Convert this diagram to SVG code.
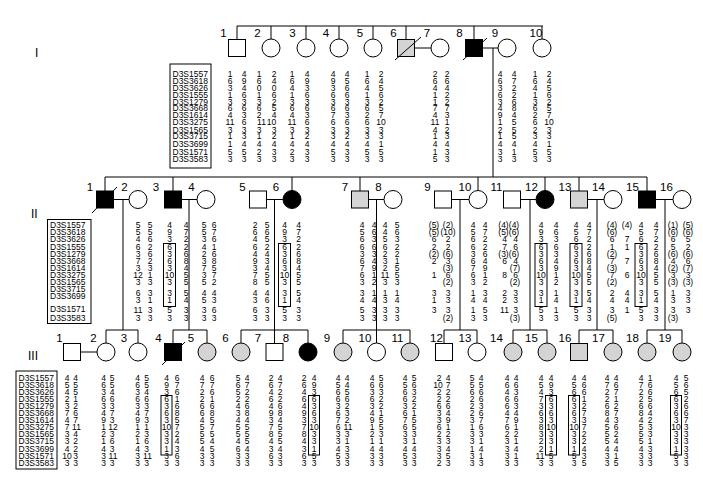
<svg xmlns="http://www.w3.org/2000/svg" width="703" height="490" viewBox="0 0 703 490">
<style>
.ln{stroke:#000;stroke-width:1;fill:none}
.w{fill:#fff;stroke:#000;stroke-width:1}
.k{fill:#000;stroke:#000;stroke-width:1}
.g{fill:#d4d4d4;stroke:#000;stroke-width:1}
.bx{fill:none;stroke:#000;stroke-width:1}
.lb{font-family:"Liberation Sans",Arial,sans-serif;font-size:11.5px;text-anchor:middle;fill:#000}
.gn{font-family:"Liberation Sans",Arial,sans-serif;font-size:12px;fill:#000}
.mk{font-family:"Liberation Sans",Arial,sans-serif;font-size:8.5px;fill:#000}
.a{font-family:"Liberation Sans",Arial,sans-serif;font-size:8.5px;text-anchor:middle;fill:#000}
</style>
<rect width="703" height="490" fill="#fff"/>
<g id="generation-labels">
<text class="gn" x="35" y="57">I</text>
<text class="gn" x="31" y="218">II</text>
<text class="gn" x="28" y="360">III</text>
</g>
<g id="connectors" class="ln">
<path d="M237 26H543M237 26V39.5M271 26V39M306 26V39M339 26V39M373 26V39M406 26V39.5M474 26V39.5M542 26V39M415 48H431M483 48H498M493 48V177"/>
<path d="M105 177H647M105 177V191M173 177V191M292 177V190.5M360 177V191M478 177V190.5M545 177V190.5M579 177V191M647 177V191"/>
<path d="M113.5 199.5H129M181.5 199.5H197M266.5 199.5H283M368.5 199.5H384M451.5 199.5H469M520.5 199.5H536M587.5 199.5H604M655.5 199.5H673"/>
<path d="M123 199.5V330M189 199.5V330M274.5 199.5V343.5M376.5 199.5V343M460 199.5V330M530 199.5V330M597 199.5V330M665 199.5V330"/>
<path d="M106 330H138M106 330V343M138 330V343M80.5 352H97M173 330H207M173 330V343.5M207 330V343M241 330H308M241 330V343M308 330V343M343 330H410M343 330V343M410 330V343M444 330H477M444 330V343.5M477 330V343M513 330H547M513 330V343M547 330V343M579 330H613M579 330V343.5M613 330V343M647 330H682M647 330V343M682 330V343"/>
</g>
<g id="markers-I">
<rect class="bx" x="170" y="64" width="41" height="104"/>
<text class="mk"><tspan x="172.5" y="76.5">D3S1557</tspan><tspan x="172.5" y="84">D3S3618</tspan><tspan x="172.5" y="91">D3S3626</tspan><tspan x="172.5" y="98">D3S1555</tspan><tspan x="172.5" y="104.5">D3S1279</tspan><tspan x="172.5" y="111">D3S3668</tspan><tspan x="172.5" y="117.5">D3S1614</tspan><tspan x="172.5" y="125">D3S3275</tspan><tspan x="172.5" y="132.5">D3S1565</tspan><tspan x="172.5" y="139">D3S3715</tspan><tspan x="172.5" y="147">D3S3699</tspan><tspan x="172.5" y="154.5">D3S1571</tspan><tspan x="172.5" y="162">D3S3583</tspan></text>
</g>
<g id="markers-II">
<rect class="bx" x="47.5" y="219.5" width="43.5" height="104"/>
<text class="mk"><tspan x="50" y="227.5">D3S1557</tspan><tspan x="50" y="234.5">D3S3618</tspan><tspan x="50" y="242">D3S3626</tspan><tspan x="50" y="249.5">D3S1555</tspan><tspan x="50" y="256.5">D3S1279</tspan><tspan x="50" y="263.5">D3S3668</tspan><tspan x="50" y="270.5">D3S1614</tspan><tspan x="50" y="277.5">D3S3275</tspan><tspan x="50" y="284.5">D3S1565</tspan><tspan x="50" y="292">D3S3715</tspan><tspan x="50" y="299">D3S3699</tspan><tspan x="50" y="312">D3S1571</tspan><tspan x="50" y="321">D3S3583</tspan></text>
</g>
<g id="markers-III">
<rect class="bx" x="16" y="371" width="41" height="98"/>
<text class="mk"><tspan x="18.5" y="380.5">D3S1557</tspan><tspan x="18.5" y="387.6">D3S3618</tspan><tspan x="18.5" y="394.7">D3S3626</tspan><tspan x="18.5" y="401.8">D3S1555</tspan><tspan x="18.5" y="408.9">D3S1279</tspan><tspan x="18.5" y="416">D3S3668</tspan><tspan x="18.5" y="423.1">D3S1614</tspan><tspan x="18.5" y="430.2">D3S3275</tspan><tspan x="18.5" y="437.3">D3S1565</tspan><tspan x="18.5" y="444.4">D3S3715</tspan><tspan x="18.5" y="451.5">D3S3699</tspan><tspan x="18.5" y="458.6">D3S1571</tspan><tspan x="18.5" y="465.7">D3S3583</tspan></text>
</g>

<g id="I-1"><rect class="w" x="228.5" y="39.5" width="17" height="17"/><text class="lb" x="223.5" y="37">1</text>
<text class="a"><tspan x="230" y="76.5">1</tspan><tspan x="230" y="84">6</tspan><tspan x="230" y="91">3</tspan><tspan x="230" y="98">1</tspan><tspan x="230" y="104.5">3</tspan><tspan x="230" y="111">6</tspan><tspan x="230" y="117.5">4</tspan><tspan x="230" y="125">11</tspan><tspan x="230" y="132.5">3</tspan><tspan x="230" y="139">1</tspan><tspan x="230" y="147">1</tspan><tspan x="230" y="154.5">5</tspan><tspan x="230" y="162">3</tspan></text>
<text class="a"><tspan x="244" y="76.5">4</tspan><tspan x="244" y="84">9</tspan><tspan x="244" y="91">4</tspan><tspan x="244" y="98">6</tspan><tspan x="244" y="104.5">3</tspan><tspan x="244" y="111">6</tspan><tspan x="244" y="117.5">3</tspan><tspan x="244" y="125">6</tspan><tspan x="244" y="132.5">3</tspan><tspan x="244" y="139">3</tspan><tspan x="244" y="147">4</tspan><tspan x="244" y="154.5">5</tspan><tspan x="244" y="162">3</tspan></text></g>
<g id="I-2"><circle class="w" cx="271" cy="48" r="9"/><text class="lb" x="257.5" y="37">2</text>
<text class="a"><tspan x="259" y="76.5">1</tspan><tspan x="259" y="84">6</tspan><tspan x="259" y="91">0</tspan><tspan x="259" y="98">1</tspan><tspan x="259" y="104.5">3</tspan><tspan x="259" y="111">6</tspan><tspan x="259" y="117.5">2</tspan><tspan x="261.5" y="125">11</tspan><tspan x="259" y="132.5">3</tspan><tspan x="259" y="139">1</tspan><tspan x="259" y="147">4</tspan><tspan x="259" y="154.5">2</tspan><tspan x="259" y="162">3</tspan></text>
<text class="a"><tspan x="274" y="76.5">2</tspan><tspan x="274" y="84">4</tspan><tspan x="274" y="91">0</tspan><tspan x="274" y="98">6</tspan><tspan x="274" y="104.5">2</tspan><tspan x="274" y="111">5</tspan><tspan x="274" y="117.5">4</tspan><tspan x="271.5" y="125">10</tspan><tspan x="274" y="132.5">3</tspan><tspan x="274" y="139">2</tspan><tspan x="274" y="147">4</tspan><tspan x="274" y="154.5">3</tspan><tspan x="274" y="162">3</tspan></text></g>
<g id="I-3"><circle class="w" cx="306" cy="48" r="9"/><text class="lb" x="292.5" y="37">3</text>
<text class="a"><tspan x="292" y="76.5">1</tspan><tspan x="292" y="84">6</tspan><tspan x="292" y="91">4</tspan><tspan x="292" y="98">1</tspan><tspan x="292" y="104.5">3</tspan><tspan x="292" y="111">6</tspan><tspan x="292" y="117.5">4</tspan><tspan x="292" y="125">11</tspan><tspan x="292" y="132.5">3</tspan><tspan x="292" y="139">1</tspan><tspan x="292" y="147">4</tspan><tspan x="292" y="154.5">2</tspan><tspan x="292" y="162">3</tspan></text>
<text class="a"><tspan x="307" y="76.5">4</tspan><tspan x="307" y="84">9</tspan><tspan x="307" y="91">3</tspan><tspan x="307" y="98">6</tspan><tspan x="307" y="104.5">3</tspan><tspan x="307" y="111">6</tspan><tspan x="307" y="117.5">3</tspan><tspan x="307" y="125">6</tspan><tspan x="307" y="132.5">3</tspan><tspan x="307" y="139">2</tspan><tspan x="307" y="147">4</tspan><tspan x="307" y="154.5">3</tspan><tspan x="307" y="162">3</tspan></text></g>
<g id="I-4"><circle class="w" cx="339" cy="48" r="9"/><text class="lb" x="326" y="37">4</text>
<text class="a"><tspan x="333" y="76.5">4</tspan><tspan x="333" y="84">9</tspan><tspan x="333" y="91">3</tspan><tspan x="333" y="98">6</tspan><tspan x="333" y="104.5">3</tspan><tspan x="333" y="111">6</tspan><tspan x="333" y="117.5">7</tspan><tspan x="333" y="125">6</tspan><tspan x="333" y="132.5">3</tspan><tspan x="333" y="139">3</tspan><tspan x="333" y="147">4</tspan><tspan x="333" y="154.5">5</tspan><tspan x="333" y="162">3</tspan></text>
<text class="a"><tspan x="347" y="76.5">4</tspan><tspan x="347" y="84">5</tspan><tspan x="347" y="91">6</tspan><tspan x="347" y="98">6</tspan><tspan x="347" y="104.5">3</tspan><tspan x="347" y="111">6</tspan><tspan x="347" y="117.5">3</tspan><tspan x="347" y="125">6</tspan><tspan x="347" y="132.5">3</tspan><tspan x="347" y="139">2</tspan><tspan x="347" y="147">4</tspan><tspan x="347" y="154.5">3</tspan><tspan x="347" y="162">3</tspan></text></g>
<g id="I-5"><circle class="w" cx="373" cy="48" r="9"/><text class="lb" x="360" y="37">5</text>
<text class="a"><tspan x="367" y="76.5">1</tspan><tspan x="367" y="84">6</tspan><tspan x="367" y="91">4</tspan><tspan x="367" y="98">1</tspan><tspan x="367" y="104.5">3</tspan><tspan x="367" y="111">6</tspan><tspan x="367" y="117.5">2</tspan><tspan x="367" y="125">6</tspan><tspan x="367" y="132.5">3</tspan><tspan x="367" y="139">3</tspan><tspan x="367" y="147">4</tspan><tspan x="367" y="154.5">5</tspan><tspan x="367" y="162">3</tspan></text>
<text class="a"><tspan x="381" y="76.5">2</tspan><tspan x="381" y="84">4</tspan><tspan x="381" y="91">5</tspan><tspan x="381" y="98">6</tspan><tspan x="381" y="104.5">2</tspan><tspan x="381" y="111">5</tspan><tspan x="381" y="117.5">7</tspan><tspan x="381" y="125">10</tspan><tspan x="381" y="132.5">3</tspan><tspan x="381" y="139">3</tspan><tspan x="381" y="147">1</tspan><tspan x="381" y="154.5">5</tspan><tspan x="381" y="162">3</tspan></text></g>
<g id="I-6"><rect class="g" x="397.5" y="39.5" width="17" height="17"/><path class="ln" d="M395 60L421 37"/><text class="lb" x="393.5" y="37">6</text></g>
<g id="I-7"><circle class="w" cx="440" cy="48" r="9"/><text class="lb" x="427" y="37">7</text>
<text class="a"><tspan x="435" y="76.5">2</tspan><tspan x="435" y="84">6</tspan><tspan x="435" y="91">4</tspan><tspan x="435" y="98">1</tspan><tspan x="435" y="104.5">1</tspan><tspan x="435" y="111">7</tspan><tspan x="435" y="117.5">4</tspan><tspan x="435" y="125">11</tspan><tspan x="435" y="132.5">4</tspan><tspan x="435" y="139">1</tspan><tspan x="435" y="147">4</tspan><tspan x="435" y="154.5">1</tspan><tspan x="435" y="162">5</tspan></text>
<text class="a"><tspan x="447" y="76.5">2</tspan><tspan x="447" y="84">6</tspan><tspan x="447" y="91">4</tspan><tspan x="447" y="98">2</tspan><tspan x="447" y="104.5">2</tspan><tspan x="447" y="111">7</tspan><tspan x="447" y="117.5">3</tspan><tspan x="447" y="125">1</tspan><tspan x="447" y="132.5">2</tspan><tspan x="447" y="139">3</tspan><tspan x="447" y="147">4</tspan><tspan x="447" y="154.5">3</tspan><tspan x="447" y="162">3</tspan></text></g>
<g id="I-8"><rect class="k" x="465.5" y="39.5" width="17" height="17"/><path class="ln" d="M463 60L487 38"/><text class="lb" x="459.5" y="37">8</text></g>
<g id="I-9"><circle class="w" cx="507" cy="48" r="9"/><text class="lb" x="495" y="37">9</text>
<text class="a"><tspan x="500" y="76.5">4</tspan><tspan x="500" y="84">6</tspan><tspan x="500" y="91">3</tspan><tspan x="500" y="98">6</tspan><tspan x="500" y="104.5">3</tspan><tspan x="500" y="111">4</tspan><tspan x="500" y="117.5">9</tspan><tspan x="500" y="125">1</tspan><tspan x="500" y="132.5">2</tspan><tspan x="500" y="139">1</tspan><tspan x="500" y="147">4</tspan><tspan x="500" y="154.5">3</tspan><tspan x="500" y="162">3</tspan></text>
<text class="a"><tspan x="514" y="76.5">4</tspan><tspan x="514" y="84">7</tspan><tspan x="514" y="91">2</tspan><tspan x="514" y="98">2</tspan><tspan x="514" y="104.5">6</tspan><tspan x="514" y="111">8</tspan><tspan x="514" y="117.5">4</tspan><tspan x="514" y="125">5</tspan><tspan x="514" y="132.5">5</tspan><tspan x="514" y="139">5</tspan><tspan x="514" y="147">4</tspan><tspan x="514" y="154.5">1</tspan><tspan x="514" y="162">3</tspan></text></g>
<g id="I-10"><circle class="w" cx="542" cy="48" r="9"/><text class="lb" x="536" y="37">10</text>
<text class="a"><tspan x="535" y="76.5">1</tspan><tspan x="535" y="84">6</tspan><tspan x="535" y="91">4</tspan><tspan x="535" y="98">1</tspan><tspan x="535" y="104.5">3</tspan><tspan x="535" y="111">6</tspan><tspan x="535" y="117.5">2</tspan><tspan x="535" y="125">6</tspan><tspan x="535" y="132.5">2</tspan><tspan x="535" y="139">3</tspan><tspan x="535" y="147">4</tspan><tspan x="535" y="154.5">5</tspan><tspan x="535" y="162">3</tspan></text>
<text class="a"><tspan x="549" y="76.5">2</tspan><tspan x="549" y="84">4</tspan><tspan x="549" y="91">5</tspan><tspan x="549" y="98">6</tspan><tspan x="549" y="104.5">2</tspan><tspan x="549" y="111">5</tspan><tspan x="549" y="117.5">7</tspan><tspan x="549" y="125">10</tspan><tspan x="549" y="132.5">3</tspan><tspan x="549" y="139">3</tspan><tspan x="549" y="147">1</tspan><tspan x="549" y="154.5">5</tspan><tspan x="549" y="162">3</tspan></text></g>

<g id="II-1"><rect class="k" x="96.5" y="191" width="17" height="17"/><path class="ln" d="M92 213L117 187"/><text class="lb" x="90" y="190.5">1</text></g>
<g id="II-2"><circle class="w" cx="138" cy="199.5" r="9"/><text class="lb" x="124.5" y="190.5">2</text>
<text class="a"><tspan x="138" y="228">5</tspan><tspan x="138" y="235">5</tspan><tspan x="138" y="242">4</tspan><tspan x="138" y="249.5">6</tspan><tspan x="138" y="256.5">3</tspan><tspan x="138" y="263.5">7</tspan><tspan x="138" y="270.5">3</tspan><tspan x="138" y="277.5">12</tspan><tspan x="138" y="284.5">3</tspan><tspan x="138" y="295.5">6</tspan><tspan x="138" y="302.5">3</tspan><tspan x="138" y="312.5">11</tspan><tspan x="138" y="321">3</tspan></text>
<text class="a"><tspan x="150" y="228">5</tspan><tspan x="150" y="235">5</tspan><tspan x="150" y="242">6</tspan><tspan x="150" y="249.5">2</tspan><tspan x="150" y="256.5">6</tspan><tspan x="150" y="263.5">2</tspan><tspan x="150" y="270.5">3</tspan><tspan x="150" y="277.5">1</tspan><tspan x="150" y="284.5">3</tspan><tspan x="150" y="295.5">3</tspan><tspan x="150" y="302.5">1</tspan><tspan x="150" y="312.5">3</tspan><tspan x="150" y="321">3</tspan></text></g>
<g id="II-3"><rect class="k" x="164.5" y="191" width="17" height="17"/><text class="lb" x="156" y="190.5">3</text>
<rect class="bx" x="163.5" y="243.5" width="12" height="63"/>
<text class="a"><tspan x="169.5" y="228">4</tspan><tspan x="169.5" y="235">9</tspan><tspan x="169.5" y="242">3</tspan><tspan x="169.5" y="249.5">6</tspan><tspan x="169.5" y="256.5">3</tspan><tspan x="169.5" y="263.5">6</tspan><tspan x="169.5" y="270.5">3</tspan><tspan x="169.5" y="277.5">10</tspan><tspan x="169.5" y="284.5">3</tspan><tspan x="169.5" y="295.5">3</tspan><tspan x="169.5" y="302.5">1</tspan><tspan x="169.5" y="312.5">5</tspan><tspan x="169.5" y="321">3</tspan></text>
<text class="a"><tspan x="186" y="228">4</tspan><tspan x="186" y="235">7</tspan><tspan x="186" y="242">2</tspan><tspan x="186" y="249.5">2</tspan><tspan x="186" y="256.5">6</tspan><tspan x="186" y="263.5">8</tspan><tspan x="186" y="270.5">4</tspan><tspan x="186" y="277.5">5</tspan><tspan x="186" y="284.5">5</tspan><tspan x="186" y="295.5">5</tspan><tspan x="186" y="302.5">4</tspan><tspan x="186" y="312.5">3</tspan><tspan x="186" y="321">3</tspan></text></g>
<g id="II-4"><circle class="w" cx="206" cy="199.5" r="9"/><text class="lb" x="191.5" y="190.5">4</text>
<text class="a"><tspan x="204" y="228">5</tspan><tspan x="204" y="235">5</tspan><tspan x="204" y="242">3</tspan><tspan x="204" y="249.5">4</tspan><tspan x="204" y="256.5">2</tspan><tspan x="204" y="263.5">3</tspan><tspan x="204" y="270.5">7</tspan><tspan x="204" y="277.5">3</tspan><tspan x="204" y="284.5">5</tspan><tspan x="204" y="295.5">4</tspan><tspan x="204" y="302.5">5</tspan><tspan x="204" y="312.5">3</tspan><tspan x="204" y="321">3</tspan></text>
<text class="a"><tspan x="214" y="228">6</tspan><tspan x="214" y="235">7</tspan><tspan x="214" y="242">6</tspan><tspan x="214" y="249.5">1</tspan><tspan x="214" y="256.5">6</tspan><tspan x="214" y="263.5">8</tspan><tspan x="214" y="270.5">5</tspan><tspan x="214" y="277.5">7</tspan><tspan x="214" y="284.5">2</tspan><tspan x="214" y="295.5">4</tspan><tspan x="214" y="302.5">3</tspan><tspan x="214" y="312.5">6</tspan><tspan x="214" y="321">3</tspan></text></g>
<g id="II-5"><rect class="w" x="249.5" y="191" width="17" height="17"/><text class="lb" x="242.5" y="190.5">5</text>
<text class="a"><tspan x="255" y="228">2</tspan><tspan x="255" y="235">6</tspan><tspan x="255" y="242">4</tspan><tspan x="255" y="249.5">6</tspan><tspan x="255" y="256.5">4</tspan><tspan x="255" y="263.5">9</tspan><tspan x="255" y="270.5">3</tspan><tspan x="255" y="277.5">7</tspan><tspan x="255" y="284.5">8</tspan><tspan x="255" y="295.5">4</tspan><tspan x="255" y="302.5">3</tspan><tspan x="255" y="312.5">6</tspan><tspan x="255" y="321">3</tspan></text>
<text class="a"><tspan x="267" y="228">5</tspan><tspan x="267" y="235">6</tspan><tspan x="267" y="242">5</tspan><tspan x="267" y="249.5">2</tspan><tspan x="267" y="256.5">4</tspan><tspan x="267" y="263.5">3</tspan><tspan x="267" y="270.5">4</tspan><tspan x="267" y="277.5">5</tspan><tspan x="267" y="284.5">5</tspan><tspan x="267" y="295.5">4</tspan><tspan x="267" y="302.5">6</tspan><tspan x="267" y="312.5">3</tspan><tspan x="267" y="321">3</tspan></text></g>
<g id="II-6"><circle class="k" cx="292" cy="199.5" r="9"/><text class="lb" x="276" y="190.5">6</text>
<rect class="bx" x="278.5" y="243.5" width="12" height="63"/>
<text class="a"><tspan x="284.5" y="228">4</tspan><tspan x="284.5" y="235">9</tspan><tspan x="284.5" y="242">3</tspan><tspan x="284.5" y="249.5">6</tspan><tspan x="284.5" y="256.5">3</tspan><tspan x="284.5" y="263.5">6</tspan><tspan x="284.5" y="270.5">3</tspan><tspan x="284.5" y="277.5">10</tspan><tspan x="284.5" y="284.5">3</tspan><tspan x="284.5" y="295.5">3</tspan><tspan x="284.5" y="302.5">1</tspan><tspan x="284.5" y="312.5">5</tspan><tspan x="284.5" y="321">3</tspan></text>
<text class="a"><tspan x="298.5" y="228">4</tspan><tspan x="298.5" y="235">7</tspan><tspan x="298.5" y="242">2</tspan><tspan x="298.5" y="249.5">2</tspan><tspan x="298.5" y="256.5">6</tspan><tspan x="298.5" y="263.5">8</tspan><tspan x="298.5" y="270.5">4</tspan><tspan x="298.5" y="277.5">5</tspan><tspan x="298.5" y="284.5">5</tspan><tspan x="298.5" y="295.5">5</tspan><tspan x="298.5" y="302.5">4</tspan><tspan x="298.5" y="312.5">3</tspan><tspan x="298.5" y="321">3</tspan></text></g>
<g id="II-7"><rect class="g" x="351.5" y="191" width="17" height="17"/><text class="lb" x="345" y="190.5">7</text>
<text class="a"><tspan x="362" y="228">4</tspan><tspan x="362" y="235">5</tspan><tspan x="362" y="242">6</tspan><tspan x="362" y="249.5">6</tspan><tspan x="362" y="256.5">3</tspan><tspan x="362" y="263.5">6</tspan><tspan x="362" y="270.5">7</tspan><tspan x="362" y="277.5">6</tspan><tspan x="362" y="284.5">3</tspan><tspan x="362" y="295.5">3</tspan><tspan x="362" y="302.5">4</tspan><tspan x="362" y="312.5">5</tspan><tspan x="362" y="321">3</tspan></text>
<text class="a"><tspan x="374" y="228">4</tspan><tspan x="374" y="235">6</tspan><tspan x="374" y="242">3</tspan><tspan x="374" y="249.5">6</tspan><tspan x="374" y="256.5">3</tspan><tspan x="374" y="263.5">4</tspan><tspan x="374" y="270.5">9</tspan><tspan x="374" y="277.5">1</tspan><tspan x="374" y="284.5">2</tspan><tspan x="374" y="295.5">1</tspan><tspan x="374" y="302.5">4</tspan><tspan x="374" y="312.5">3</tspan><tspan x="374" y="321">3</tspan></text></g>
<g id="II-8"><circle class="w" cx="393" cy="199.5" r="9"/><text class="lb" x="378.5" y="190.5">8</text>
<text class="a"><tspan x="385" y="228">4</tspan><tspan x="385" y="235">4</tspan><tspan x="385" y="242">5</tspan><tspan x="385" y="249.5">6</tspan><tspan x="385" y="256.5">2</tspan><tspan x="385" y="263.5">3</tspan><tspan x="385" y="270.5">2</tspan><tspan x="385" y="277.5">11</tspan><tspan x="385" y="284.5">3</tspan><tspan x="385" y="295.5">1</tspan><tspan x="385" y="302.5">3</tspan><tspan x="385" y="312.5">3</tspan><tspan x="385" y="321">3</tspan></text>
<text class="a"><tspan x="397" y="228">5</tspan><tspan x="397" y="235">6</tspan><tspan x="397" y="242">3</tspan><tspan x="397" y="249.5">2</tspan><tspan x="397" y="256.5">2</tspan><tspan x="397" y="263.5">1</tspan><tspan x="397" y="270.5">5</tspan><tspan x="397" y="277.5">5</tspan><tspan x="397" y="284.5">3</tspan><tspan x="397" y="295.5">1</tspan><tspan x="397" y="302.5">4</tspan><tspan x="397" y="312.5">3</tspan><tspan x="397" y="321">3</tspan></text></g>
<g id="II-9"><rect class="w" x="434.5" y="191" width="17" height="17"/><text class="lb" x="427.5" y="190.5">9</text>
<text class="a"><tspan x="434" y="228">(5)</tspan><tspan x="434" y="235">(5)</tspan><tspan x="434" y="242">6</tspan><tspan x="434" y="249.5">2</tspan><tspan x="434" y="256.5">(2)</tspan><tspan x="434" y="263.5">2</tspan><tspan x="434" y="277.5">1</tspan><tspan x="434" y="295.5">3</tspan><tspan x="434" y="302.5">1</tspan><tspan x="434" y="312.5">3</tspan></text>
<text class="a"><tspan x="448" y="228">(2)</tspan><tspan x="448" y="235">(10)</tspan><tspan x="448" y="242">2</tspan><tspan x="448" y="249.5">2</tspan><tspan x="448" y="256.5">(6)</tspan><tspan x="448" y="263.5">3</tspan><tspan x="448" y="270.5">(3)</tspan><tspan x="448" y="277.5">6</tspan><tspan x="448" y="284.5">(2)</tspan><tspan x="448" y="295.5">3</tspan><tspan x="448" y="302.5">3</tspan><tspan x="448" y="312.5">3</tspan><tspan x="448" y="321">(2)</tspan></text></g>
<g id="II-10"><circle class="w" cx="478" cy="199.5" r="9"/><text class="lb" x="465" y="190.5">10</text>
<text class="a"><tspan x="473" y="228">4</tspan><tspan x="473" y="235">5</tspan><tspan x="473" y="242">6</tspan><tspan x="473" y="249.5">6</tspan><tspan x="473" y="256.5">3</tspan><tspan x="473" y="263.5">6</tspan><tspan x="473" y="270.5">7</tspan><tspan x="473" y="277.5">6</tspan><tspan x="473" y="284.5">3</tspan><tspan x="473" y="295.5">1</tspan><tspan x="473" y="302.5">4</tspan><tspan x="473" y="312.5">1</tspan><tspan x="473" y="321">3</tspan></text>
<text class="a"><tspan x="485" y="228">4</tspan><tspan x="485" y="235">7</tspan><tspan x="485" y="242">2</tspan><tspan x="485" y="249.5">2</tspan><tspan x="485" y="256.5">6</tspan><tspan x="485" y="263.5">4</tspan><tspan x="485" y="270.5">9</tspan><tspan x="485" y="277.5">1</tspan><tspan x="485" y="284.5">2</tspan><tspan x="485" y="295.5">3</tspan><tspan x="485" y="302.5">4</tspan><tspan x="485" y="312.5">5</tspan><tspan x="485" y="321">3</tspan></text></g>
<g id="II-11"><rect class="w" x="503.5" y="191" width="17" height="17"/><text class="lb" x="496.5" y="190.5">11</text>
<text class="a"><tspan x="503.5" y="228">(4)</tspan><tspan x="503.5" y="235">(5)</tspan><tspan x="504.5" y="242">4</tspan><tspan x="504.5" y="249.5">7</tspan><tspan x="503.5" y="256.5">(3)</tspan><tspan x="504.5" y="263.5">6</tspan><tspan x="504.5" y="277.5">8</tspan><tspan x="504.5" y="295.5">2</tspan><tspan x="504.5" y="302.5">2</tspan><tspan x="504.5" y="312.5">11</tspan></text>
<text class="a"><tspan x="514" y="228">(4)</tspan><tspan x="514" y="235">(6)</tspan><tspan x="515.5" y="242">4</tspan><tspan x="515.5" y="249.5">6</tspan><tspan x="514" y="256.5">(6)</tspan><tspan x="515.5" y="263.5">4</tspan><tspan x="515" y="270.5">(7)</tspan><tspan x="515.5" y="277.5">6</tspan><tspan x="515" y="284.5">(2)</tspan><tspan x="515.5" y="295.5">3</tspan><tspan x="515.5" y="302.5">3</tspan><tspan x="515.5" y="312.5">3</tspan><tspan x="515" y="321">(3)</tspan></text></g>
<g id="II-12"><circle class="k" cx="545" cy="199.5" r="9"/><text class="lb" x="531.5" y="190.5">12</text>
<rect class="bx" x="535" y="243.5" width="12" height="63"/>
<text class="a"><tspan x="541" y="228">4</tspan><tspan x="541" y="235">9</tspan><tspan x="541" y="242">3</tspan><tspan x="541" y="249.5">6</tspan><tspan x="541" y="256.5">3</tspan><tspan x="541" y="263.5">6</tspan><tspan x="541" y="270.5">3</tspan><tspan x="541" y="277.5">10</tspan><tspan x="541" y="284.5">3</tspan><tspan x="541" y="295.5">3</tspan><tspan x="541" y="302.5">1</tspan><tspan x="541" y="312.5">5</tspan><tspan x="541" y="321">3</tspan></text>
<text class="a"><tspan x="556" y="228">4</tspan><tspan x="556" y="235">6</tspan><tspan x="556" y="242">3</tspan><tspan x="556" y="249.5">6</tspan><tspan x="556" y="256.5">3</tspan><tspan x="556" y="263.5">4</tspan><tspan x="556" y="270.5">9</tspan><tspan x="556" y="277.5">1</tspan><tspan x="556" y="284.5">2</tspan><tspan x="556" y="295.5">1</tspan><tspan x="556" y="302.5">4</tspan><tspan x="556" y="312.5">1</tspan><tspan x="556" y="321">3</tspan></text></g>
<g id="II-13"><rect class="g" x="570.5" y="191" width="17" height="17"/><text class="lb" x="565" y="190.5">13</text>
<rect class="bx" x="570" y="243.5" width="12" height="63"/>
<text class="a"><tspan x="576" y="228">4</tspan><tspan x="576" y="235">5</tspan><tspan x="576" y="242">6</tspan><tspan x="576" y="249.5">6</tspan><tspan x="576" y="256.5">3</tspan><tspan x="576" y="263.5">6</tspan><tspan x="576" y="270.5">3</tspan><tspan x="576" y="277.5">10</tspan><tspan x="576" y="284.5">3</tspan><tspan x="576" y="295.5">3</tspan><tspan x="576" y="302.5">1</tspan><tspan x="576" y="312.5">5</tspan><tspan x="576" y="321">3</tspan></text>
<text class="a"><tspan x="589" y="228">4</tspan><tspan x="589" y="235">7</tspan><tspan x="589" y="242">2</tspan><tspan x="589" y="249.5">2</tspan><tspan x="589" y="256.5">6</tspan><tspan x="589" y="263.5">8</tspan><tspan x="589" y="270.5">4</tspan><tspan x="589" y="277.5">5</tspan><tspan x="589" y="284.5">5</tspan><tspan x="589" y="295.5">5</tspan><tspan x="589" y="302.5">4</tspan><tspan x="589" y="312.5">3</tspan><tspan x="589" y="321">3</tspan></text></g>
<g id="II-14"><circle class="w" cx="613" cy="199.5" r="9"/><text class="lb" x="598.5" y="190.5">14</text>
<text class="a"><tspan x="612" y="228">(4)</tspan><tspan x="612" y="235">(6)</tspan><tspan x="612" y="242">6</tspan><tspan x="612" y="249.5">1</tspan><tspan x="612" y="256.5">(2)</tspan><tspan x="612" y="263.5">7</tspan><tspan x="612" y="270.5">(3)</tspan><tspan x="612" y="277.5">7</tspan><tspan x="612" y="284.5">(2)</tspan><tspan x="612" y="295.5">2</tspan><tspan x="612" y="302.5">4</tspan><tspan x="612" y="312.5">3</tspan><tspan x="612" y="321">(5)</tspan></text>
<text class="a"><tspan x="627" y="228">(4)</tspan><tspan x="627" y="242">7</tspan><tspan x="627" y="249.5">1</tspan><tspan x="627" y="263.5">7</tspan><tspan x="627" y="277.5">6</tspan><tspan x="627" y="295.5">4</tspan><tspan x="627" y="302.5">4</tspan><tspan x="627" y="312.5">1</tspan></text></g>
<g id="II-15"><rect class="k" x="638.5" y="191" width="17" height="17"/><text class="lb" x="632.5" y="190.5">15</text>
<rect class="bx" x="635" y="243.5" width="12" height="63"/>
<text class="a"><tspan x="641" y="228">4</tspan><tspan x="641" y="235">5</tspan><tspan x="641" y="242">6</tspan><tspan x="641" y="249.5">6</tspan><tspan x="641" y="256.5">3</tspan><tspan x="641" y="263.5">6</tspan><tspan x="641" y="270.5">3</tspan><tspan x="641" y="277.5">10</tspan><tspan x="641" y="284.5">3</tspan><tspan x="641" y="295.5">3</tspan><tspan x="641" y="302.5">1</tspan><tspan x="641" y="312.5">5</tspan><tspan x="641" y="321">3</tspan></text>
<text class="a"><tspan x="656" y="228">4</tspan><tspan x="656" y="235">7</tspan><tspan x="656" y="242">2</tspan><tspan x="656" y="249.5">2</tspan><tspan x="656" y="256.5">6</tspan><tspan x="656" y="263.5">8</tspan><tspan x="656" y="270.5">4</tspan><tspan x="656" y="277.5">5</tspan><tspan x="656" y="284.5">5</tspan><tspan x="656" y="295.5">5</tspan><tspan x="656" y="302.5">4</tspan><tspan x="656" y="312.5">3</tspan><tspan x="656" y="321">3</tspan></text></g>
<g id="II-16"><circle class="w" cx="682" cy="199.5" r="9"/><text class="lb" x="666.5" y="190.5">16</text>
<text class="a"><tspan x="673" y="228">(1)</tspan><tspan x="673" y="235">(6)</tspan><tspan x="673" y="242">6</tspan><tspan x="673" y="249.5">5</tspan><tspan x="673" y="256.5">(6)</tspan><tspan x="673" y="263.5">4</tspan><tspan x="673" y="270.5">(2)</tspan><tspan x="673" y="277.5">3</tspan><tspan x="673" y="284.5">(3)</tspan><tspan x="673" y="295.5">1</tspan><tspan x="673" y="302.5">3</tspan><tspan x="673" y="312.5">3</tspan><tspan x="673" y="321">(3)</tspan></text>
<text class="a"><tspan x="688" y="228">(5)</tspan><tspan x="688" y="235">(6)</tspan><tspan x="688" y="242">5</tspan><tspan x="688" y="249.5">2</tspan><tspan x="688" y="256.5">(6)</tspan><tspan x="688" y="263.5">6</tspan><tspan x="688" y="270.5">(7)</tspan><tspan x="688" y="277.5">3</tspan><tspan x="688" y="284.5">(3)</tspan><tspan x="688" y="295.5">3</tspan><tspan x="688" y="302.5">3</tspan><tspan x="688" y="312.5">3</tspan></text></g>

<g id="III-1"><rect class="w" x="63.5" y="343.5" width="17" height="17"/><text class="lb" x="59.5" y="342">1</text>
<text class="a"><tspan x="67" y="380.5">4</tspan><tspan x="67" y="387.6">5</tspan><tspan x="67" y="394.7">4</tspan><tspan x="67" y="401.8">2</tspan><tspan x="67" y="408.9">3</tspan><tspan x="67" y="416">7</tspan><tspan x="67" y="423.1">4</tspan><tspan x="67" y="430.2">7</tspan><tspan x="67" y="437.3">3</tspan><tspan x="67" y="444.4">3</tspan><tspan x="67" y="451.5">4</tspan><tspan x="67" y="458.6">10</tspan><tspan x="67" y="465.7">3</tspan></text>
<text class="a"><tspan x="75.5" y="380.5">4</tspan><tspan x="75.5" y="387.6">5</tspan><tspan x="75.5" y="394.7">5</tspan><tspan x="75.5" y="401.8">1</tspan><tspan x="75.5" y="408.9">2</tspan><tspan x="75.5" y="416">6</tspan><tspan x="75.5" y="423.1">7</tspan><tspan x="76.5" y="430.2">11</tspan><tspan x="75.5" y="437.3">4</tspan><tspan x="75.5" y="444.4">2</tspan><tspan x="75.5" y="451.5">2</tspan><tspan x="75.5" y="458.6">3</tspan><tspan x="75.5" y="465.7">3</tspan></text></g>
<g id="III-2"><circle class="w" cx="106" cy="352" r="9"/><text class="lb" x="93.5" y="342">2</text>
<text class="a"><tspan x="103.5" y="380.5">4</tspan><tspan x="103.5" y="387.6">6</tspan><tspan x="103.5" y="394.7">3</tspan><tspan x="103.5" y="401.8">6</tspan><tspan x="103.5" y="408.9">3</tspan><tspan x="103.5" y="416">4</tspan><tspan x="103.5" y="423.1">9</tspan><tspan x="103.5" y="430.2">1</tspan><tspan x="103.5" y="437.3">2</tspan><tspan x="103.5" y="444.4">1</tspan><tspan x="103.5" y="451.5">4</tspan><tspan x="103.5" y="458.6">3</tspan><tspan x="103.5" y="465.7">3</tspan></text>
<text class="a"><tspan x="112" y="380.5">5</tspan><tspan x="112" y="387.6">5</tspan><tspan x="112" y="394.7">4</tspan><tspan x="112" y="401.8">6</tspan><tspan x="112" y="408.9">3</tspan><tspan x="112" y="416">7</tspan><tspan x="112" y="423.1">3</tspan><tspan x="113" y="430.2">12</tspan><tspan x="112" y="437.3">3</tspan><tspan x="112" y="444.4">6</tspan><tspan x="112" y="451.5">3</tspan><tspan x="113" y="458.6">11</tspan><tspan x="112" y="465.7">3</tspan></text></g>
<g id="III-3"><circle class="w" cx="138" cy="352" r="9"/><text class="lb" x="124" y="342">3</text>
<text class="a"><tspan x="137.5" y="380.5">4</tspan><tspan x="137.5" y="387.6">6</tspan><tspan x="137.5" y="394.7">3</tspan><tspan x="137.5" y="401.8">6</tspan><tspan x="137.5" y="408.9">3</tspan><tspan x="137.5" y="416">4</tspan><tspan x="137.5" y="423.1">9</tspan><tspan x="137.5" y="430.2">1</tspan><tspan x="137.5" y="437.3">2</tspan><tspan x="137.5" y="444.4">1</tspan><tspan x="137.5" y="451.5">4</tspan><tspan x="137.5" y="458.6">3</tspan><tspan x="137.5" y="465.7">3</tspan></text>
<text class="a"><tspan x="146.5" y="380.5">5</tspan><tspan x="146.5" y="387.6">5</tspan><tspan x="146.5" y="394.7">4</tspan><tspan x="146.5" y="401.8">6</tspan><tspan x="146.5" y="408.9">3</tspan><tspan x="146.5" y="416">7</tspan><tspan x="146.5" y="423.1">3</tspan><tspan x="146.5" y="430.2">1</tspan><tspan x="146.5" y="437.3">3</tspan><tspan x="146.5" y="444.4">6</tspan><tspan x="146.5" y="451.5">3</tspan><tspan x="147.5" y="458.6">11</tspan><tspan x="146.5" y="465.7">3</tspan></text></g>
<g id="III-4"><rect class="k" x="164.5" y="343.5" width="17" height="17"/><path class="ln" d="M162 365L185 342"/><text class="lb" x="158.5" y="342">4</text>
<rect class="bx" x="161" y="395.5" width="11" height="59.5"/>
<text class="a"><tspan x="166.5" y="380.5">4</tspan><tspan x="166.5" y="387.6">9</tspan><tspan x="166.5" y="394.7">3</tspan><tspan x="166.5" y="401.8">6</tspan><tspan x="166.5" y="408.9">3</tspan><tspan x="166.5" y="416">6</tspan><tspan x="166.5" y="423.1">3</tspan><tspan x="166.5" y="430.2">10</tspan><tspan x="166.5" y="437.3">3</tspan><tspan x="166.5" y="444.4">3</tspan><tspan x="166.5" y="451.5">1</tspan><tspan x="166.5" y="458.6">3</tspan><tspan x="166.5" y="465.7">3</tspan></text>
<text class="a"><tspan x="177" y="380.5">6</tspan><tspan x="177" y="387.6">7</tspan><tspan x="177" y="394.7">6</tspan><tspan x="177" y="401.8">1</tspan><tspan x="177" y="408.9">6</tspan><tspan x="177" y="416">8</tspan><tspan x="177" y="423.1">5</tspan><tspan x="177" y="430.2">7</tspan><tspan x="177" y="437.3">2</tspan><tspan x="177" y="444.4">4</tspan><tspan x="177" y="451.5">3</tspan><tspan x="177" y="458.6">6</tspan><tspan x="177" y="465.7">3</tspan></text></g>
<g id="III-5"><circle class="g" cx="207" cy="352" r="9"/><text class="lb" x="191" y="342">5</text>
<text class="a"><tspan x="202" y="380.5">4</tspan><tspan x="202" y="387.6">7</tspan><tspan x="202" y="394.7">2</tspan><tspan x="202" y="401.8">2</tspan><tspan x="202" y="408.9">6</tspan><tspan x="202" y="416">6</tspan><tspan x="202" y="423.1">4</tspan><tspan x="202" y="430.2">5</tspan><tspan x="202" y="437.3">5</tspan><tspan x="202" y="444.4">5</tspan><tspan x="202" y="451.5">4</tspan><tspan x="202" y="458.6">3</tspan><tspan x="202" y="465.7">3</tspan></text>
<text class="a"><tspan x="212" y="380.5">6</tspan><tspan x="212" y="387.6">7</tspan><tspan x="212" y="394.7">6</tspan><tspan x="212" y="401.8">1</tspan><tspan x="212" y="408.9">6</tspan><tspan x="212" y="416">8</tspan><tspan x="212" y="423.1">5</tspan><tspan x="212" y="430.2">7</tspan><tspan x="212" y="437.3">5</tspan><tspan x="212" y="444.4">4</tspan><tspan x="212" y="451.5">5</tspan><tspan x="212" y="458.6">3</tspan><tspan x="212" y="465.7">3</tspan></text></g>
<g id="III-6"><circle class="g" cx="241" cy="352" r="9"/><text class="lb" x="225.5" y="342">6</text>
<text class="a"><tspan x="238" y="380.5">5</tspan><tspan x="238" y="387.6">6</tspan><tspan x="238" y="394.7">5</tspan><tspan x="238" y="401.8">2</tspan><tspan x="238" y="408.9">4</tspan><tspan x="238" y="416">3</tspan><tspan x="238" y="423.1">4</tspan><tspan x="238" y="430.2">5</tspan><tspan x="238" y="437.3">5</tspan><tspan x="238" y="444.4">4</tspan><tspan x="238" y="451.5">6</tspan><tspan x="238" y="458.6">3</tspan><tspan x="238" y="465.7">3</tspan></text>
<text class="a"><tspan x="247" y="380.5">4</tspan><tspan x="247" y="387.6">7</tspan><tspan x="247" y="394.7">2</tspan><tspan x="247" y="401.8">2</tspan><tspan x="247" y="408.9">6</tspan><tspan x="247" y="416">8</tspan><tspan x="247" y="423.1">4</tspan><tspan x="247" y="430.2">5</tspan><tspan x="247" y="437.3">5</tspan><tspan x="247" y="444.4">5</tspan><tspan x="247" y="451.5">4</tspan><tspan x="247" y="458.6">3</tspan><tspan x="247" y="465.7">3</tspan></text></g>
<g id="III-7"><rect class="w" x="266" y="343.5" width="17" height="17"/><text class="lb" x="258" y="342">7</text>
<text class="a"><tspan x="271" y="380.5">2</tspan><tspan x="271" y="387.6">6</tspan><tspan x="271" y="394.7">4</tspan><tspan x="271" y="401.8">6</tspan><tspan x="271" y="408.9">4</tspan><tspan x="271" y="416">9</tspan><tspan x="271" y="423.1">3</tspan><tspan x="271" y="430.2">7</tspan><tspan x="271" y="437.3">8</tspan><tspan x="271" y="444.4">4</tspan><tspan x="271" y="451.5">3</tspan><tspan x="271" y="458.6">6</tspan><tspan x="271" y="465.7">3</tspan></text>
<text class="a"><tspan x="280" y="380.5">4</tspan><tspan x="280" y="387.6">7</tspan><tspan x="280" y="394.7">2</tspan><tspan x="280" y="401.8">2</tspan><tspan x="280" y="408.9">6</tspan><tspan x="280" y="416">8</tspan><tspan x="280" y="423.1">4</tspan><tspan x="280" y="430.2">5</tspan><tspan x="280" y="437.3">5</tspan><tspan x="280" y="444.4">5</tspan><tspan x="280" y="451.5">4</tspan><tspan x="280" y="458.6">3</tspan><tspan x="280" y="465.7">3</tspan></text></g>
<g id="III-8"><circle class="k" cx="308" cy="352" r="9"/><text class="lb" x="286" y="342">8</text>
<rect class="bx" x="308.5" y="395.5" width="11" height="59.5"/>
<text class="a"><tspan x="304" y="380.5">2</tspan><tspan x="304" y="387.6">6</tspan><tspan x="304" y="394.7">4</tspan><tspan x="304" y="401.8">6</tspan><tspan x="304" y="408.9">4</tspan><tspan x="304" y="416">9</tspan><tspan x="304" y="423.1">3</tspan><tspan x="304" y="430.2">7</tspan><tspan x="304" y="437.3">8</tspan><tspan x="304" y="444.4">4</tspan><tspan x="304" y="451.5">3</tspan><tspan x="304" y="458.6">6</tspan><tspan x="304" y="465.7">3</tspan></text>
<text class="a"><tspan x="314" y="380.5">4</tspan><tspan x="314" y="387.6">9</tspan><tspan x="314" y="394.7">3</tspan><tspan x="314" y="401.8">6</tspan><tspan x="314" y="408.9">3</tspan><tspan x="314" y="416">6</tspan><tspan x="314" y="423.1">3</tspan><tspan x="314" y="430.2">10</tspan><tspan x="314" y="437.3">3</tspan><tspan x="314" y="444.4">3</tspan><tspan x="314" y="451.5">1</tspan><tspan x="314" y="458.6">5</tspan><tspan x="314" y="465.7">3</tspan></text></g>
<g id="III-9"><circle class="g" cx="343" cy="352" r="9"/><text class="lb" x="327" y="342">9</text>
<text class="a"><tspan x="338" y="380.5">4</tspan><tspan x="338" y="387.6">5</tspan><tspan x="338" y="394.7">6</tspan><tspan x="338" y="401.8">6</tspan><tspan x="338" y="408.9">3</tspan><tspan x="338" y="416">6</tspan><tspan x="338" y="423.1">7</tspan><tspan x="338" y="430.2">6</tspan><tspan x="338" y="437.3">3</tspan><tspan x="338" y="444.4">3</tspan><tspan x="338" y="451.5">4</tspan><tspan x="338" y="458.6">5</tspan><tspan x="338" y="465.7">3</tspan></text>
<text class="a"><tspan x="347" y="380.5">4</tspan><tspan x="347" y="387.6">4</tspan><tspan x="347" y="394.7">5</tspan><tspan x="347" y="401.8">6</tspan><tspan x="347" y="408.9">2</tspan><tspan x="347" y="416">3</tspan><tspan x="347" y="423.1">2</tspan><tspan x="348" y="430.2">11</tspan><tspan x="347" y="437.3">3</tspan><tspan x="347" y="444.4">1</tspan><tspan x="347" y="451.5">3</tspan><tspan x="347" y="458.6">3</tspan><tspan x="347" y="465.7">3</tspan></text></g>
<g id="III-10"><circle class="w" cx="376.5" cy="352" r="9"/><text class="lb" x="365" y="342">10</text>
<text class="a"><tspan x="372" y="380.5">4</tspan><tspan x="372" y="387.6">6</tspan><tspan x="372" y="394.7">3</tspan><tspan x="372" y="401.8">6</tspan><tspan x="372" y="408.9">3</tspan><tspan x="372" y="416">4</tspan><tspan x="372" y="423.1">9</tspan><tspan x="372" y="430.2">1</tspan><tspan x="372" y="437.3">2</tspan><tspan x="372" y="444.4">1</tspan><tspan x="372" y="451.5">4</tspan><tspan x="372" y="458.6">3</tspan><tspan x="372" y="465.7">3</tspan></text>
<text class="a"><tspan x="381" y="380.5">5</tspan><tspan x="381" y="387.6">6</tspan><tspan x="381" y="394.7">3</tspan><tspan x="381" y="401.8">2</tspan><tspan x="381" y="408.9">2</tspan><tspan x="381" y="416">1</tspan><tspan x="381" y="423.1">5</tspan><tspan x="381" y="430.2">5</tspan><tspan x="381" y="437.3">3</tspan><tspan x="381" y="444.4">1</tspan><tspan x="381" y="451.5">4</tspan><tspan x="381" y="458.6">3</tspan><tspan x="381" y="465.7">3</tspan></text></g>
<g id="III-11"><circle class="g" cx="410" cy="352" r="9"/><text class="lb" x="397.5" y="342">11</text>
<text class="a"><tspan x="405" y="380.5">4</tspan><tspan x="405" y="387.6">5</tspan><tspan x="405" y="394.7">6</tspan><tspan x="405" y="401.8">6</tspan><tspan x="405" y="408.9">3</tspan><tspan x="405" y="416">6</tspan><tspan x="405" y="423.1">7</tspan><tspan x="405" y="430.2">6</tspan><tspan x="405" y="437.3">3</tspan><tspan x="405" y="444.4">3</tspan><tspan x="405" y="451.5">4</tspan><tspan x="405" y="458.6">5</tspan><tspan x="405" y="465.7">3</tspan></text>
<text class="a"><tspan x="414" y="380.5">5</tspan><tspan x="414" y="387.6">6</tspan><tspan x="414" y="394.7">3</tspan><tspan x="414" y="401.8">2</tspan><tspan x="414" y="408.9">2</tspan><tspan x="414" y="416">1</tspan><tspan x="414" y="423.1">5</tspan><tspan x="414" y="430.2">5</tspan><tspan x="414" y="437.3">3</tspan><tspan x="414" y="444.4">1</tspan><tspan x="414" y="451.5">4</tspan><tspan x="414" y="458.6">3</tspan><tspan x="414" y="465.7">3</tspan></text></g>
<g id="III-12"><rect class="w" x="435.5" y="343.5" width="17" height="17"/><text class="lb" x="436.5" y="342">12</text>
<text class="a"><tspan x="439" y="380.5">2</tspan><tspan x="438" y="387.6">10</tspan><tspan x="439" y="394.7">2</tspan><tspan x="439" y="401.8">2</tspan><tspan x="439" y="408.9">6</tspan><tspan x="439" y="416">3</tspan><tspan x="439" y="423.1">3</tspan><tspan x="439" y="430.2">6</tspan><tspan x="439" y="437.3">2</tspan><tspan x="439" y="444.4">3</tspan><tspan x="439" y="451.5">3</tspan><tspan x="439" y="458.6">3</tspan><tspan x="439" y="465.7">2</tspan></text>
<text class="a"><tspan x="448" y="380.5">4</tspan><tspan x="448" y="387.6">7</tspan><tspan x="448" y="394.7">2</tspan><tspan x="448" y="401.8">2</tspan><tspan x="448" y="408.9">6</tspan><tspan x="448" y="416">4</tspan><tspan x="448" y="423.1">9</tspan><tspan x="448" y="430.2">1</tspan><tspan x="448" y="437.3">2</tspan><tspan x="448" y="444.4">3</tspan><tspan x="448" y="451.5">4</tspan><tspan x="448" y="458.6">5</tspan><tspan x="448" y="465.7">3</tspan></text></g>
<g id="III-13"><circle class="w" cx="477" cy="352" r="9"/><text class="lb" x="465" y="342">13</text>
<text class="a"><tspan x="472" y="380.5">5</tspan><tspan x="472" y="387.6">5</tspan><tspan x="472" y="394.7">6</tspan><tspan x="472" y="401.8">2</tspan><tspan x="472" y="408.9">2</tspan><tspan x="472" y="416">2</tspan><tspan x="472" y="423.1">3</tspan><tspan x="472" y="430.2">1</tspan><tspan x="472" y="437.3">3</tspan><tspan x="472" y="444.4">3</tspan><tspan x="472" y="451.5">1</tspan><tspan x="472" y="458.6">3</tspan><tspan x="472" y="465.7">3</tspan></text>
<text class="a"><tspan x="481" y="380.5">4</tspan><tspan x="481" y="387.6">5</tspan><tspan x="481" y="394.7">6</tspan><tspan x="481" y="401.8">6</tspan><tspan x="481" y="408.9">3</tspan><tspan x="481" y="416">6</tspan><tspan x="481" y="423.1">7</tspan><tspan x="481" y="430.2">6</tspan><tspan x="481" y="437.3">3</tspan><tspan x="481" y="444.4">1</tspan><tspan x="481" y="451.5">4</tspan><tspan x="481" y="458.6">1</tspan><tspan x="481" y="465.7">3</tspan></text></g>
<g id="III-14"><circle class="g" cx="513" cy="352" r="9"/><text class="lb" x="496.5" y="342">14</text>
<text class="a"><tspan x="507" y="380.5">4</tspan><tspan x="507" y="387.6">6</tspan><tspan x="507" y="394.7">4</tspan><tspan x="507" y="401.8">6</tspan><tspan x="507" y="408.9">6</tspan><tspan x="507" y="416">4</tspan><tspan x="507" y="423.1">7</tspan><tspan x="507" y="430.2">6</tspan><tspan x="507" y="437.3">2</tspan><tspan x="507" y="444.4">3</tspan><tspan x="507" y="451.5">3</tspan><tspan x="507" y="458.6">3</tspan><tspan x="507" y="465.7">3</tspan></text>
<text class="a"><tspan x="516" y="380.5">4</tspan><tspan x="516" y="387.6">6</tspan><tspan x="516" y="394.7">3</tspan><tspan x="516" y="401.8">6</tspan><tspan x="516" y="408.9">3</tspan><tspan x="516" y="416">4</tspan><tspan x="516" y="423.1">9</tspan><tspan x="516" y="430.2">1</tspan><tspan x="516" y="437.3">2</tspan><tspan x="516" y="444.4">1</tspan><tspan x="516" y="451.5">4</tspan><tspan x="516" y="458.6">1</tspan><tspan x="516" y="465.7">3</tspan></text></g>
<g id="III-15"><circle class="g" cx="547" cy="352" r="9"/><text class="lb" x="531.5" y="342">15</text>
<rect class="bx" x="545.5" y="395.5" width="11" height="59.5"/>
<text class="a"><tspan x="541" y="380.5">4</tspan><tspan x="541" y="387.6">5</tspan><tspan x="541" y="394.7">4</tspan><tspan x="541" y="401.8">7</tspan><tspan x="541" y="408.9">3</tspan><tspan x="541" y="416">6</tspan><tspan x="541" y="423.1">3</tspan><tspan x="541" y="430.2">8</tspan><tspan x="541" y="437.3">3</tspan><tspan x="541" y="444.4">2</tspan><tspan x="541" y="451.5">2</tspan><tspan x="540" y="458.6">11</tspan><tspan x="541" y="465.7">3</tspan></text>
<text class="a"><tspan x="551" y="380.5">4</tspan><tspan x="551" y="387.6">9</tspan><tspan x="551" y="394.7">3</tspan><tspan x="551" y="401.8">6</tspan><tspan x="551" y="408.9">3</tspan><tspan x="551" y="416">6</tspan><tspan x="551" y="423.1">3</tspan><tspan x="551" y="430.2">10</tspan><tspan x="551" y="437.3">3</tspan><tspan x="551" y="444.4">3</tspan><tspan x="551" y="451.5">1</tspan><tspan x="551" y="458.6">5</tspan><tspan x="551" y="465.7">3</tspan></text></g>
<g id="III-16"><rect class="g" x="570.5" y="343.5" width="17" height="17"/><text class="lb" x="565" y="342">16</text>
<rect class="bx" x="568.5" y="395.5" width="11" height="59.5"/>
<text class="a"><tspan x="574" y="380.5">4</tspan><tspan x="574" y="387.6">5</tspan><tspan x="574" y="394.7">6</tspan><tspan x="574" y="401.8">6</tspan><tspan x="574" y="408.9">3</tspan><tspan x="574" y="416">6</tspan><tspan x="574" y="423.1">3</tspan><tspan x="574" y="430.2">10</tspan><tspan x="574" y="437.3">3</tspan><tspan x="574" y="444.4">3</tspan><tspan x="574" y="451.5">1</tspan><tspan x="574" y="458.6">5</tspan><tspan x="574" y="465.7">3</tspan></text>
<text class="a"><tspan x="584" y="380.5">4</tspan><tspan x="584" y="387.6">6</tspan><tspan x="584" y="394.7">6</tspan><tspan x="584" y="401.8">1</tspan><tspan x="584" y="408.9">2</tspan><tspan x="584" y="416">7</tspan><tspan x="584" y="423.1">3</tspan><tspan x="584" y="430.2">7</tspan><tspan x="584" y="437.3">2</tspan><tspan x="584" y="444.4">2</tspan><tspan x="584" y="451.5">4</tspan><tspan x="584" y="458.6">3</tspan><tspan x="584" y="465.7">5</tspan></text></g>
<g id="III-17"><circle class="g" cx="613" cy="352" r="9"/><text class="lb" x="598.5" y="342">17</text>
<text class="a"><tspan x="607" y="380.5">4</tspan><tspan x="607" y="387.6">7</tspan><tspan x="607" y="394.7">2</tspan><tspan x="607" y="401.8">2</tspan><tspan x="607" y="408.9">6</tspan><tspan x="607" y="416">8</tspan><tspan x="607" y="423.1">4</tspan><tspan x="607" y="430.2">5</tspan><tspan x="607" y="437.3">5</tspan><tspan x="607" y="444.4">5</tspan><tspan x="607" y="451.5">4</tspan><tspan x="607" y="458.6">3</tspan><tspan x="607" y="465.7">3</tspan></text>
<text class="a"><tspan x="616" y="380.5">4</tspan><tspan x="616" y="387.6">6</tspan><tspan x="616" y="394.7">7</tspan><tspan x="616" y="401.8">1</tspan><tspan x="616" y="408.9">2</tspan><tspan x="616" y="416">7</tspan><tspan x="616" y="423.1">3</tspan><tspan x="616" y="430.2">6</tspan><tspan x="616" y="437.3">2</tspan><tspan x="616" y="444.4">4</tspan><tspan x="616" y="451.5">4</tspan><tspan x="616" y="458.6">1</tspan><tspan x="616" y="465.7">5</tspan></text></g>
<g id="III-18"><circle class="g" cx="647" cy="352" r="9"/><text class="lb" x="632.5" y="342">18</text>
<text class="a"><tspan x="641" y="380.5">4</tspan><tspan x="641" y="387.6">7</tspan><tspan x="641" y="394.7">2</tspan><tspan x="641" y="401.8">2</tspan><tspan x="641" y="408.9">6</tspan><tspan x="641" y="416">8</tspan><tspan x="641" y="423.1">4</tspan><tspan x="641" y="430.2">5</tspan><tspan x="641" y="437.3">5</tspan><tspan x="641" y="444.4">5</tspan><tspan x="641" y="451.5">4</tspan><tspan x="641" y="458.6">3</tspan><tspan x="641" y="465.7">3</tspan></text>
<text class="a"><tspan x="650" y="380.5">1</tspan><tspan x="650" y="387.6">6</tspan><tspan x="650" y="394.7">6</tspan><tspan x="650" y="401.8">5</tspan><tspan x="650" y="408.9">6</tspan><tspan x="650" y="416">4</tspan><tspan x="650" y="423.1">2</tspan><tspan x="650" y="430.2">3</tspan><tspan x="650" y="437.3">3</tspan><tspan x="650" y="444.4">1</tspan><tspan x="650" y="451.5">3</tspan><tspan x="650" y="458.6">3</tspan><tspan x="650" y="465.7">3</tspan></text></g>
<g id="III-19"><circle class="g" cx="682" cy="352" r="9"/><text class="lb" x="665" y="342">19</text>
<rect class="bx" x="670.5" y="395.5" width="11" height="59.5"/>
<text class="a"><tspan x="676" y="380.5">4</tspan><tspan x="676" y="387.6">5</tspan><tspan x="676" y="394.7">6</tspan><tspan x="676" y="401.8">6</tspan><tspan x="676" y="408.9">3</tspan><tspan x="676" y="416">6</tspan><tspan x="676" y="423.1">3</tspan><tspan x="676" y="430.2">10</tspan><tspan x="676" y="437.3">3</tspan><tspan x="676" y="444.4">3</tspan><tspan x="676" y="451.5">1</tspan><tspan x="676" y="458.6">5</tspan><tspan x="676" y="465.7">3</tspan></text>
<text class="a"><tspan x="686" y="380.5">5</tspan><tspan x="686" y="387.6">6</tspan><tspan x="686" y="394.7">5</tspan><tspan x="686" y="401.8">2</tspan><tspan x="686" y="408.9">6</tspan><tspan x="686" y="416">6</tspan><tspan x="686" y="423.1">7</tspan><tspan x="686" y="430.2">3</tspan><tspan x="686" y="437.3">3</tspan><tspan x="686" y="444.4">3</tspan><tspan x="686" y="451.5">3</tspan><tspan x="686" y="458.6">3</tspan><tspan x="686" y="465.7">3</tspan></text></g>
</svg>
